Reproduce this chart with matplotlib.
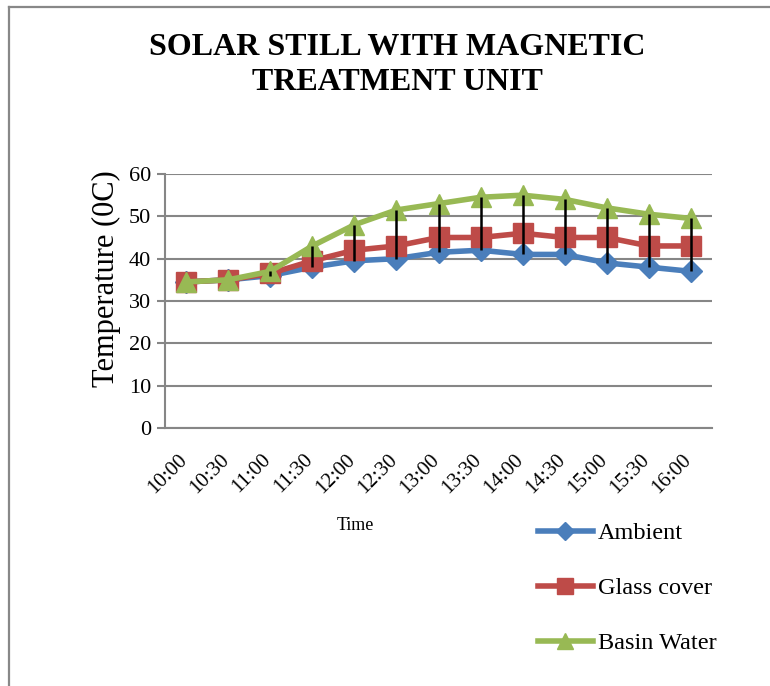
import matplotlib
matplotlib.use("Agg")
import matplotlib.pyplot as plt
import matplotlib.transforms as mtransforms
from matplotlib.lines import Line2D

plt.rcParams['font.family'] = ['Liberation Serif', 'DejaVu Serif']

# data
times = ['10:00', '10:30', '11:00', '11:30', '12:00', '12:30', '13:00',
         '13:30', '14:00', '14:30', '15:00', '15:30', '16:00']
ambient = [34.5, 35, 36, 38, 39.5, 40, 41.5, 42, 41, 41, 39, 38, 37]
glass = [34.5, 35, 36.5, 39.5, 42, 43, 45, 45, 46, 45, 45, 43, 43]
basin = [34.5, 35, 37, 43, 48, 51.5, 53, 54.5, 55, 54, 52, 50.5, 49.5]

W, H = 770, 686
fig = plt.figure(figsize=(W / 100, H / 100), dpi=100)

# outer chart border: only the left and top edges show in the crop
bx, by = 8.5 / W, 1 - 6.5 / H
fig.lines.append(Line2D([bx, bx], [0, by], transform=fig.transFigure, color='#888888', lw=1.6))
fig.lines.append(Line2D([bx, 1], [by, by], transform=fig.transFigure, color='#888888', lw=1.6))

# plot area in pixels
left, right, top, bottom = 165, 712, 174, 428
ax = fig.add_axes([left / W, 1 - bottom / H, (right - left) / W, (bottom - top) / H])

x = list(range(len(times)))
ax.plot(x, ambient, color='#4A7EBB', lw=4, marker='D', ms=11, label='Ambient', zorder=3)
ax.plot(x, glass, color='#BE4B48', lw=4, marker='s', ms=15, label='Glass cover', zorder=4)
ax.plot(x, basin, color='#98B954', lw=4, marker='^', ms=15, label='Basin Water', zorder=5)

# high-low lines
lows = [min(a, g, b) for a, g, b in zip(ambient, glass, basin)]
highs = [max(a, g, b) for a, g, b in zip(ambient, glass, basin)]
ax.vlines(x, lows, highs, color='black', lw=1.8, zorder=6)

ax.set_xlim(-0.5, len(times) - 0.5)
ax.set_ylim(0, 60)
ax.set_yticks(range(0, 61, 10))
ax.set_xticks(x)
ax.set_xticklabels(times, rotation=45, ha='right', va='center', rotation_mode='anchor')
ax.tick_params(axis='x', length=0, pad=21, labelsize=15)
ax.tick_params(axis='y', length=6, width=1.5, color='#868686', labelsize=16, pad=4)
shift = mtransforms.ScaledTranslation(-2 / 100, 0, fig.dpi_scale_trans)
for lbl in ax.get_xticklabels():
    lbl.set_transform(lbl.get_transform() + shift)
ax.grid(axis='y', color='#868686', lw=1.5)
ax.set_axisbelow(True)
for s in ['top', 'right']:
    ax.spines[s].set_visible(False)
for s in ['left', 'bottom']:
    ax.spines[s].set_color('#868686')
    ax.spines[s].set_linewidth(1.5)

fig.text(106 / W, 1 - 279 / H, 'Temperature (0C)', rotation=90, ha='center', va='center',
         fontsize=22)

fig.text(397 / W, 1 - 65 / H, 'SOLAR STILL WITH MAGNETIC\nTREATMENT UNIT', ha='center',
         va='center', fontsize=23, fontweight='bold', linespacing=1.3)
fig.text(355 / W, 1 - 525 / H, 'Time', ha='center', va='center', fontsize=13)

fig.legend(loc='upper left', bbox_to_anchor=(538 / W, 1 - 522 / H), frameon=False,
           fontsize=17.5, handlelength=2.25, labelspacing=1.36, handletextpad=0.2,
           borderpad=0, borderaxespad=0, markerscale=0.8)

fig.savefig('out.png', dpi=100)
